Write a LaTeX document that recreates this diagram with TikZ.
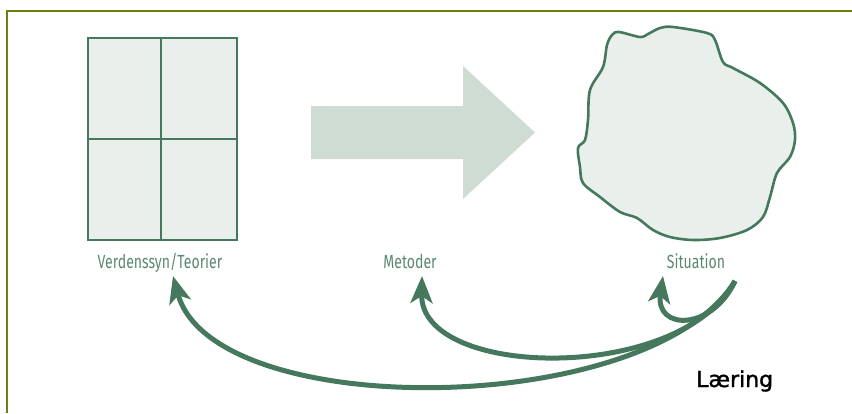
\documentclass[tikz,border=0pt]{standalone}
\usepackage{fontspec}
\usetikzlibrary{arrows.meta,calc}
\newfontfamily\lblfont[FakeStretch=0.74]{Fira Sans}
\newfontfamily\learnfont[FakeBold=1.5]{DejaVu Sans}
\definecolor{framecol}{HTML}{6E7F10}
\definecolor{linecol}{HTML}{45785D}
\definecolor{lblcol}{HTML}{5B8870}
\definecolor{cellfill}{HTML}{E9EFEB}
\definecolor{bigarrow}{HTML}{CEDCD3}
\tikzset{
  lbl/.style={font=\lblfont\fontsize{19}{21}\selectfont, text=lblcol, inner sep=0pt, anchor=base},
  learnarrow/.style={draw=linecol, line width=5pt, -{Stealth[length=27pt,width=22pt,inset=7pt]}},
}
\begin{document}
\begin{tikzpicture}[x=1pt,y=-1pt]
\useasboundingbox (0,0) rectangle (852,413);
% frame
\draw[framecol, line width=2pt] (7,413) -- (7,10.5) -- (852,10.5);
% grid box
\draw[linecol, line width=1.5pt, fill=cellfill] (88,38) rectangle (237,240);
\draw[linecol, line width=1.5pt] (161,38) -- (161,240) (88,139) -- (237,139);
% big arrow
\fill[bigarrow] (311,106) -- (463,106) -- (463,66) -- (535,132.5) -- (463,199) -- (463,159) -- (311,159) -- cycle;
% blob
\draw[linecol, line width=2.6pt, fill=cellfill] plot[smooth cycle, tension=0.55] coordinates {
(619,32) (640,37) (648,34) (660,28) (673,27) (707,33) (715,40) (723,62) (733,68)
(760,83) (783,103) (793,123) (795,140) (790,157) (777,173) (770,197) (763,217)
(747,230) (720,238) (693,240) (670,237) (653,230) (637,218) (620,212) (600,197)
(583,183) (580,167) (578,148) (585,140) (588,120) (590,90) (603,67) (607,45) (612,35)};
% labels
\node[lbl] (v) at (160,268) {Verdenssyn/Teorier};
\node[lbl] (m) at (410,268) {Metoder};
\node[lbl] (s) at (696,268) {Situation};
\node[font=\learnfont\fontsize{22}{25}\selectfont, anchor=base west, inner sep=0pt] (l) at (696,387) {Læring};
% learning arrows
\coordinate (src) at (735,281);
\draw[learnarrow] (src) .. controls +(-85,138) and +(40,147) .. ($(v.base)+(13,8)$);
\draw[learnarrow] (src) .. controls +(-55,103) and +(-2,103) .. ($(m.base)+(12,8)$);
\draw[learnarrow] (src) .. controls +(-23,50) and +(-8,55) .. ($(s.base)+(-33,8)$);
\end{tikzpicture}
\end{document}
